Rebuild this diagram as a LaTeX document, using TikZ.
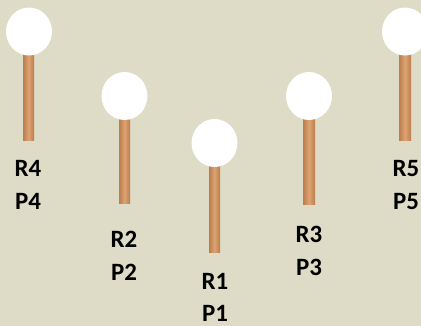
\documentclass[tikz,border=0pt]{standalone}
\usepackage{fontspec}
\setmainfont{Carlito}
\usetikzlibrary{shapes.geometric}

\definecolor{bgcol}{HTML}{DEDBC6}
\definecolor{woodedge}{HTML}{BC7C4C}
\definecolor{woodmid}{HTML}{DDA472}

\tikzset{
  head/.style={ellipse,fill=white,minimum width=46bp,minimum height=48bp,inner sep=0pt},
  stick/.style={left color=woodedge,right color=woodedge,middle color=woodmid},
  pintext/.style={anchor=base,inner sep=0pt,font=\fontsize{25}{30}\selectfont\bfseries}
}

\begin{document}
\begin{tikzpicture}[x=1bp,y=-1bp]

% Background
\fill[bgcol] (0,0) rectangle (421,326);
\useasboundingbox (0,0) rectangle (421,326);
\clip (0,0) rectangle (421,326);

% Pin 4 (far left)
\shade[stick] (23,50) rectangle (34,140);
\node[head] (head4) at (29,31.5) {};
\node[pintext] (r4) at (28,176) {R4};
\node[pintext] (p4) at (28,209) {P4};

% Pin 2
\shade[stick] (119,110) rectangle (130,203);
\node[head] (head2) at (124.5,96) {};
\node[pintext] (r2) at (124,247) {R2};
\node[pintext] (p2) at (124,280) {P2};

% Pin 1 (middle, lowest)
\shade[stick] (209,160) rectangle (220,252);
\node[head] (head1) at (214.5,143) {};
\node[pintext] (r1) at (215,289.5) {R1};
\node[pintext] (p1) at (215,321) {P1};

% Pin 3
\shade[stick] (303,110) rectangle (315,204);
\node[head] (head3) at (309,96) {};
\node[pintext] (r3) at (309,242) {R3};
\node[pintext] (p3) at (309,275) {P3};

% Pin 5 (far right, cut by the edge)
\shade[stick] (399,50) rectangle (411,140);
\node[head] (head5) at (405,31.5) {};
\node[pintext] (r5) at (406,176) {R5};
\node[pintext] (p5) at (406,209) {P5};

\end{tikzpicture}
\end{document}
